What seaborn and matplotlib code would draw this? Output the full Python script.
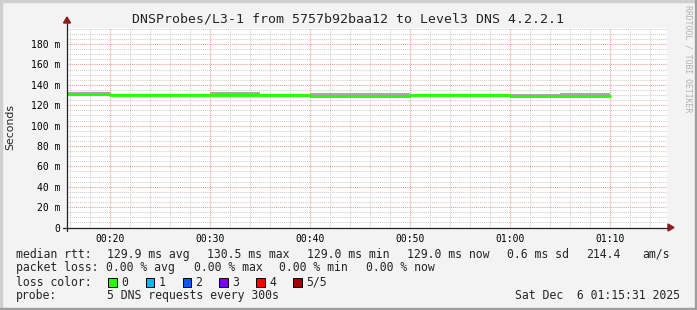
import numpy as np
import pandas as pd
import matplotlib
matplotlib.use("Agg")
import matplotlib.pyplot as plt
import seaborn as sns
from matplotlib.patches import Rectangle, Polygon
from matplotlib.lines import Line2D

# ---------------- data ----------------
title = "DNSProbes/L3-1 from 5757b92baa12 to Level3 DNS 4.2.2.1"
seg_start = ["00:15", "00:20", "00:25", "00:30", "00:35", "00:40",
             "00:45", "00:50", "00:55", "01:00", "01:05"]
seg_minutes = 5
median_ms = [130.6, 130.2, 130.2, 130.4, 129.6, 129.1, 129.1, 129.6, 130.4, 129.5, 129.0]
smoke_lo = [129.5, 129.5, 129.5, 129.5, 128.5, 128.6, 128.6, 129.0, 128.3, 128.5, 128.6]
smoke_hi = [132.8, 131.0, 131.0, 132.8, 131.0, 131.6, 131.6, 130.6, 131.0, 131.0, 131.6]
loss_pct = [0, 0, 0, 0, 0, 0, 0, 0, 0, 0, 0]

x_major = ["00:20", "00:30", "00:40", "00:50", "01:00", "01:10"]
y_major = [0, 20, 40, 60, 80, 100, 120, 140, 160, 180]

loss_labels = ["0", "1", "2", "3", "4", "5/5"]
loss_colors = ["#26ff00", "#00b8ff", "#0059ff", "#7e00ff", "#ff0000", "#a10000"]

rtt_label = "median rtt:"
rtt_items = ["129.9 ms avg", "130.5 ms max", "129.0 ms min", "129.0 ms now",
             "0.6 ms sd", "214.4", "am/s"]
loss_label = "packet loss:"
loss_items = ["0.00 % avg", "0.00 % max", "0.00 % min", "0.00 % now"]
color_label = "loss color:"
probe_label = "probe:"
probe_text = "5 DNS requests every 300s"
date_text = "Sat Dec  6 01:15:31 2025"
watermark = "RRDTOOL / TOBI OETIKER"


def to_min(s):
    h, m = s.split(":")
    return int(h) * 60 + int(m)


# ---------------- figure ----------------
sns.set_theme(style="white")
MONO = ["DejaVu Sans Mono", "DejaVu Sans"]
plt.rcParams["font.family"] = MONO

W, H = 697, 310
BG = "#f3f3f3"
fig = plt.figure(figsize=(W / 100, H / 100), dpi=100, facecolor=BG)


def fx(px):
    return px / W


def fy(py):
    return 1 - py / H


# frame shading
fig.patches.append(Rectangle((0, fy(2)), 1, 2 / H, transform=fig.transFigure, color="#cfcfcf", zorder=0))
fig.patches.append(Rectangle((0, 0), 2 / W, 1, transform=fig.transFigure, color="#cfcfcf", zorder=0))
fig.patches.append(Rectangle((0, 0), 1, 2 / H, transform=fig.transFigure, color="#9e9e9e", zorder=0))
fig.patches.append(Rectangle((1 - 2 / W, 0), 2 / W, 1, transform=fig.transFigure, color="#9e9e9e", zorder=0))

X0, X1 = 67, 667
YT, YB = 28, 227.5
ax = fig.add_axes([fx(X0), fy(YB), (X1 - X0) / W, (YB - YT) / H])
ax.set_facecolor("white")

px_per_min = 10.0
xmin = to_min(x_major[0]) - (110 - X0) / px_per_min
xmax = xmin + (X1 - X0) / px_per_min
px_per_ms = 1.019
ymax = (YB - YT) / px_per_ms

t = [to_min(s) for s in seg_start]
t_ext = t + [t[-1] + seg_minutes]
df = pd.DataFrame({
    "t": t_ext,
    "median": median_ms + [median_ms[-1]],
    "lo": smoke_lo + [smoke_lo[-1]],
    "hi": smoke_hi + [smoke_hi[-1]],
})

# smoke
ax.fill_between(df["t"], df["lo"], df["hi"], step="post", color="#a9a9a9", linewidth=0, zorder=3)
# median line coloured by loss
line_color = loss_colors[min(int(max(loss_pct)), len(loss_colors) - 1)]
sns.lineplot(data=df, x="t", y="median", drawstyle="steps-post", color=line_color,
             linewidth=2.0, ax=ax, zorder=4, estimator=None, sort=False)

ax.set_xlim(xmin, xmax)
ax.set_ylim(0, ymax)
ax.set_xlabel("")
ax.set_ylabel("")

# grid
ax.set_xticks([to_min(s) for s in x_major])
ax.set_xticklabels(x_major)
ax.set_xticks(np.arange(16, 76, 2), minor=True)
ax.set_yticks(y_major)
ax.set_yticklabels([f"{v} m" if v else "0" for v in y_major])
ax.set_yticks(np.arange(5, ymax, 5), minor=True)
ax.grid(which="minor", color="#cfcfcf", linestyle=(0, (1, 1)), linewidth=0.75, zorder=1)
ax.grid(which="major", color="#f29a9a", linestyle=(0, (1, 1)), linewidth=0.75, zorder=2)
ax.set_axisbelow(True)

ax.tick_params(axis="both", which="major", labelsize=7, colors="#f29a9a",
               labelcolor="black", length=2.2, width=0.8, direction="out")
ax.tick_params(axis="x", which="major", pad=2.5)
ax.tick_params(axis="y", which="major", pad=2.8)
ax.tick_params(axis="both", which="minor", colors="#bdbdbd", length=1.4, width=0.7, direction="out")
for lab in ax.get_xticklabels() + ax.get_yticklabels():
    lab.set_family(MONO)

for s in ax.spines.values():
    s.set_visible(False)

# axes lines with overhang and arrows
axis_col = "#222222"
fig.add_artist(Line2D([fx(X0 - 4), fx(X1 + 2)], [fy(YB), fy(YB)], color=axis_col, lw=0.9, transform=fig.transFigure, zorder=10))
fig.add_artist(Line2D([fx(X0), fx(X0)], [fy(YB + 3), fy(YT - 5)], color=axis_col, lw=0.9, transform=fig.transFigure, zorder=10))
arrow_col = "#8c1c1c"
fig.patches.append(Polygon([(fx(X0 - 3.5), fy(YT - 5)), (fx(X0 + 3.5), fy(YT - 5)), (fx(X0), fy(YT - 11))],
                           closed=True, transform=fig.transFigure, color=arrow_col, zorder=11))
fig.patches.append(Polygon([(fx(X1 + 1), fy(YB - 3.5)), (fx(X1 + 1), fy(YB + 3.5)), (fx(X1 + 7), fy(YB))],
                           closed=True, transform=fig.transFigure, color=arrow_col, zorder=11))

# title, y-label, watermark
fig.text(fx(348), fy(19), title, ha="center", va="center", fontsize=9.5, family=MONO)
fig.text(fx(10), fy(127), "Seconds", ha="center", va="center", rotation=90, fontsize=7.8,
         family=["DejaVu Sans"])
fig.text(fx(688), fy(59), watermark, ha="center", va="center", rotation=270, fontsize=5.9,
         family=MONO, color="#b0b0b0")

# legend area
LF = 8.3
row_y = [254.3, 267.8, 282.2, 295.8]
fig.text(fx(16), fy(row_y[0]), rtt_label, ha="left", va="center", fontsize=LF, family=MONO)
rtt_x = [107, 207.3, 306.7, 407.3, 507.3, 586, 642.7]
for xx, s in zip(rtt_x, rtt_items):
    fig.text(fx(xx), fy(row_y[0]), s, ha="left", va="center", fontsize=LF, family=MONO)

fig.text(fx(16), fy(row_y[1]), loss_label, ha="left", va="center", fontsize=LF, family=MONO)
loss_x = [106, 194, 279.3, 365.7]
for xx, s in zip(loss_x, loss_items):
    fig.text(fx(xx), fy(row_y[1]), s, ha="left", va="center", fontsize=LF, family=MONO)

fig.text(fx(16), fy(row_y[2]), color_label, ha="left", va="center", fontsize=LF, family=MONO)
sq_x = [108.3, 145.7, 182.7, 219.3, 256.3, 293.3]
for xx, lab, col in zip(sq_x, loss_labels, loss_colors):
    fig.patches.append(Rectangle((fx(xx), fy(row_y[2] + 4.3)), 8.5 / W, 8.5 / H, transform=fig.transFigure,
                                 facecolor=col, edgecolor="black", linewidth=0.7, zorder=5))
    fig.text(fx(xx + 12.8), fy(row_y[2]), lab, ha="left", va="center", fontsize=LF, family=MONO)

fig.text(fx(16), fy(row_y[3]), probe_label, ha="left", va="center", fontsize=LF, family=MONO)
fig.text(fx(107.3), fy(row_y[3]), probe_text, ha="left", va="center", fontsize=LF, family=MONO)
fig.text(fx(680), fy(row_y[3]), date_text, ha="right", va="center", fontsize=LF, family=MONO)

fig.savefig("out.png", dpi=100, facecolor=BG)
